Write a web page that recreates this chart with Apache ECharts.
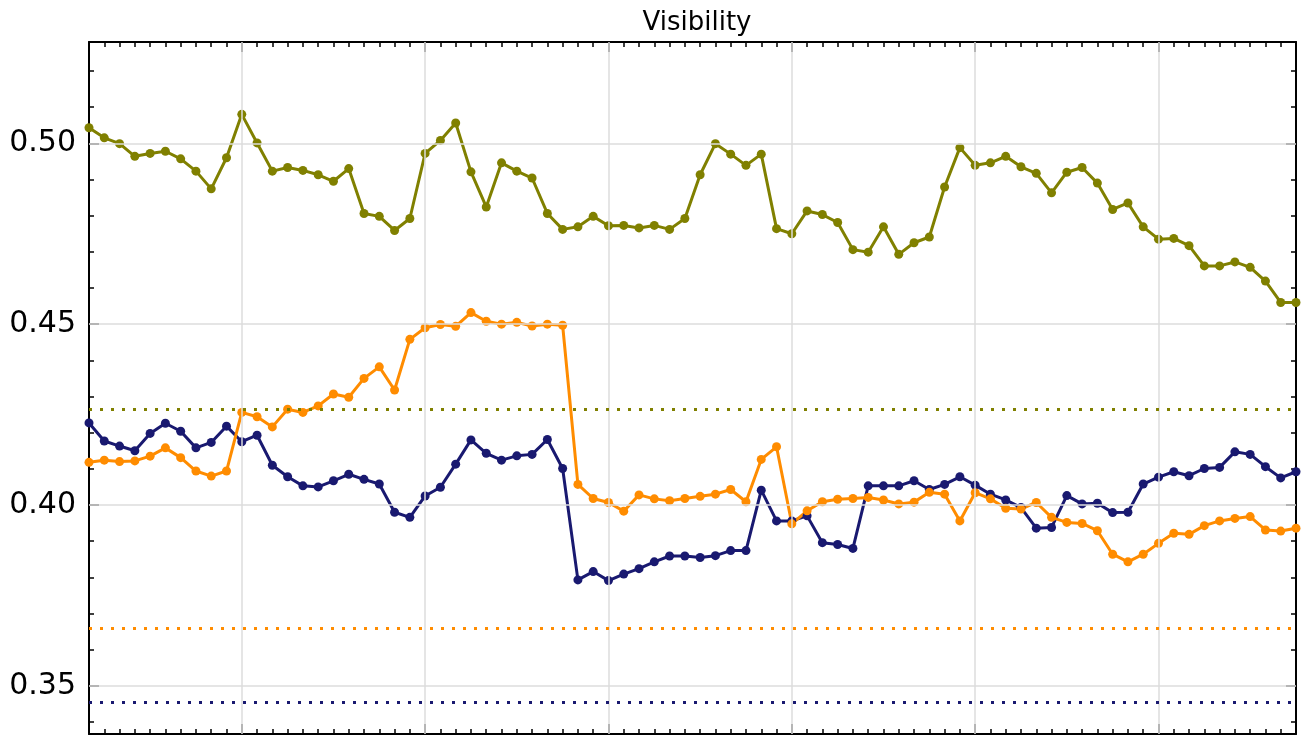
<!DOCTYPE html>
<html>
<head>
<meta charset="utf-8">
<script src="https://cdn.jsdelivr.net/npm/echarts@6/dist/echarts.min.js"></script>
<style>
  html, body { margin: 0; padding: 0; background: #fff; }
  #chart { width: 1304px; height: 736px; }
</style>
</head>
<body>
<div id="chart"></div>
<script>
// values, one point per step
const olive = [
  0.5043, 0.5015, 0.4999, 0.4964, 0.4972, 0.4978, 0.4957, 0.4923, 0.4874, 0.4960,
  0.5080, 0.5001, 0.4923, 0.4933, 0.4925, 0.4913, 0.4895, 0.4930, 0.4806, 0.4798,
  0.4759, 0.4792, 0.4972, 0.5008, 0.5056, 0.4921, 0.4824, 0.4946, 0.4923, 0.4904,
  0.4806, 0.4762, 0.4769, 0.4798, 0.4772, 0.4773, 0.4766, 0.4773, 0.4762, 0.4792,
  0.4913, 0.4999, 0.4970, 0.4939, 0.4970, 0.4764, 0.4750, 0.4813, 0.4803, 0.4781,
  0.4706, 0.4699, 0.4769, 0.4693, 0.4725, 0.4741, 0.4879, 0.4988, 0.4939, 0.4946,
  0.4964, 0.4935, 0.4917, 0.4863, 0.4920, 0.4933, 0.4890, 0.4817, 0.4835, 0.4769,
  0.4735, 0.4737, 0.4717, 0.4661, 0.4661, 0.4672, 0.4657, 0.4619, 0.4560, 0.4560
];
const navy = [
  0.4227, 0.4177, 0.4163, 0.4150, 0.4198, 0.4226, 0.4204, 0.4158, 0.4173, 0.4218,
  0.4175, 0.4193, 0.4110, 0.4078, 0.4053, 0.4050, 0.4067, 0.4085, 0.4071, 0.4058,
  0.3980, 0.3966, 0.4025, 0.4049, 0.4113, 0.4180, 0.4143, 0.4124, 0.4136, 0.4140,
  0.4181, 0.4101, 0.3793, 0.3816, 0.3791, 0.3809, 0.3824, 0.3843, 0.3859, 0.3859,
  0.3855, 0.3860, 0.3874, 0.3874, 0.4041, 0.3956, 0.3956, 0.3970, 0.3896, 0.3891,
  0.3880, 0.4053, 0.4053, 0.4053, 0.4067, 0.4043, 0.4057, 0.4078, 0.4055, 0.4030,
  0.4014, 0.3993, 0.3936, 0.3938, 0.4026, 0.4003, 0.4005, 0.3979, 0.3980, 0.4058,
  0.4077, 0.4092, 0.4081, 0.4101, 0.4104, 0.4147, 0.4140, 0.4106, 0.4075, 0.4092
];
const orange = [
  0.4118, 0.4124, 0.4120, 0.4122, 0.4135, 0.4158, 0.4131, 0.4094, 0.4080, 0.4094,
  0.4256, 0.4244, 0.4216, 0.4265, 0.4256, 0.4274, 0.4307, 0.4298, 0.4350, 0.4382,
  0.4318, 0.4458, 0.4490, 0.4499, 0.4494, 0.4532, 0.4508, 0.4500, 0.4505, 0.4495,
  0.4500, 0.4497, 0.4057, 0.4018, 0.4007, 0.3983, 0.4028, 0.4017, 0.4012, 0.4018,
  0.4024, 0.4030, 0.4043, 0.4009, 0.4126, 0.4161, 0.3948, 0.3984, 0.4009, 0.4016,
  0.4018, 0.4021, 0.4014, 0.4003, 0.4008, 0.4035, 0.4030, 0.3956, 0.4034, 0.4017,
  0.3991, 0.3989, 0.4007, 0.3966, 0.3952, 0.3949, 0.3929, 0.3864, 0.3843, 0.3864,
  0.3894, 0.3922, 0.3919, 0.3943, 0.3956, 0.3963, 0.3968, 0.3931, 0.3928, 0.3936
];
// dotted reference levels
const oliveRef = 0.4265;
const orangeRef = 0.3660;
const navyRef = 0.3456;

const yTicks = [0.35, 0.40, 0.45, 0.50];
const yMinorTicks = [];
for (let v = 34; v <= 52; v++) yMinorTicks.push(v / 100);
const xMajorTicks = [10, 22, 34, 46, 58, 70];

const yMin = 0.3367, yMax = 0.528;
const xMax = olive.length - 1;

const chart = echarts.init(document.getElementById('chart'));

const toPairs = arr => arr.map((v, i) => [i, v]);
const ink = '#000';
const font = 'DejaVu Sans';
const plot = { left: 89, right: 8, top: 42, bottom: 2 };

function xAx(grid, pos, opts) {
  return Object.assign({
    type: 'value', gridIndex: grid, position: pos, min: 0, max: xMax, z: 3,
    axisLine: { show: false, onZero: false },
    axisLabel: { show: false },
    splitLine: { show: false },
    axisTick: { show: false }
  }, opts);
}
function yAx(grid, pos, opts) {
  return Object.assign({
    type: 'value', gridIndex: grid, position: pos, min: yMin, max: yMax, z: 3,
    axisLine: { show: false, onZero: false },
    axisLabel: { show: false },
    splitLine: { show: false },
    axisTick: { show: false }
  }, opts);
}
const frame = { show: true, onZero: false, lineStyle: { color: ink, width: 2 } };
const tick = (len, extra) => Object.assign({ show: true, inside: true, length: len, lineStyle: { color: ink, width: 1.5 } }, extra || {});

function dataSeries(name, values, color, ref) {
  return {
    name: name,
    type: 'line',
    xAxisIndex: 0,
    yAxisIndex: 0,
    data: toPairs(values),
    symbol: 'circle',
    symbolSize: 9,
    z: 4,
    lineStyle: { color: color, width: 3 },
    itemStyle: { color: color },
    markLine: {
      silent: true,
      symbol: 'none',
      precision: 6,
      label: { show: false },
      lineStyle: { color: color, width: 3, type: [3, 8] },
      data: [{ yAxis: ref }]
    }
  };
}

chart.setOption({
  animation: false,
  title: {
    text: 'Visibility',
    left: 692,
    textAlign: 'center',
    top: 5,
    textStyle: { fontFamily: font, fontSize: 26, fontWeight: 'normal', color: ink }
  },
  grid: [Object.assign({}, plot), Object.assign({}, plot)],
  xAxis: [
    xAx(0, 'bottom', { interval: 1, axisLine: frame, axisTick: tick(5) }),
    xAx(0, 'top', { interval: 1, axisLine: frame, axisTick: tick(5) }),
    xAx(1, 'bottom', { axisTick: tick(10, { customValues: xMajorTicks }) }),
    xAx(1, 'top', { axisTick: tick(10, { customValues: xMajorTicks }) })
  ],
  yAxis: [
    yAx(0, 'left', {
      axisLine: frame,
      axisTick: tick(10, { customValues: yTicks }),
      axisLabel: {
        show: true, customValues: yTicks, margin: 13,
        formatter: v => v.toFixed(2),
        fontFamily: font, fontSize: 30, color: ink
      }
    }),
    yAx(0, 'right', { axisLine: frame, axisTick: tick(10, { customValues: yTicks }) }),
    yAx(1, 'left', { axisTick: tick(5, { customValues: yMinorTicks }) }),
    yAx(1, 'right', { axisTick: tick(5, { customValues: yMinorTicks }) })
  ],
  series: [
    {
      // grid lines
      type: 'line',
      xAxisIndex: 0,
      yAxisIndex: 0,
      data: [],
      z: 1,
      silent: true,
      markLine: {
        silent: true,
        symbol: 'none',
        precision: 6,
        label: { show: false },
        lineStyle: { color: '#dcdcdc', width: 1.5, type: 'solid' },
        data: xMajorTicks.map(v => ({ xAxis: v })).concat(yTicks.map(v => ({ yAxis: v })))
      }
    },
    dataSeries('olive', olive, '#808000', oliveRef),
    dataSeries('navy', navy, '#191970', navyRef),
    dataSeries('orange', orange, '#ff8c00', orangeRef)
  ]
});
</script>
</body>
</html>
